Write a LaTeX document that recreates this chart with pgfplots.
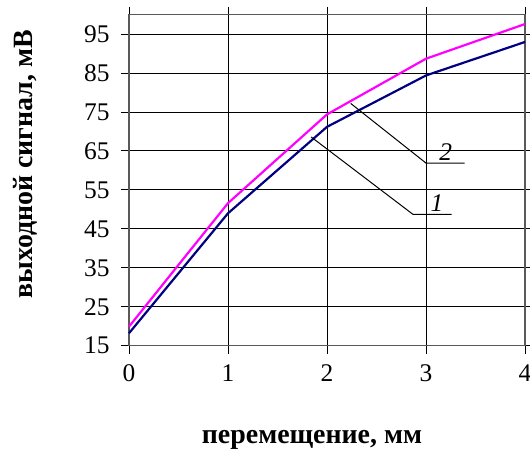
\documentclass[border=0pt]{standalone}
\usepackage{fontspec}
\setmainfont{Liberation Serif}
\usepackage{pgfplots}
\pgfplotsset{compat=1.18}
\begin{document}
\begin{tikzpicture}
\useasboundingbox (-129bp,-106.3bp) rectangle (401bp,345.7bp);
\begin{axis}[
  scale only axis,
  width=396bp, height=331bp,
  xmin=0, xmax=4, ymin=15, ymax=100,
  xtick={0,1,2,3,4},
  ytick={15,25,35,45,55,65,75,85,95},
  grid=major,
  grid style={black, line width=1pt},
  tick align=outside,
  major tick length=8bp,
  tick style={black, line width=1pt},
  axis line style={gray!70!black, line width=1.5pt},
  /pgf/number format/assume math mode=true,
  every tick label/.append style={font=\fontsize{25.5}{27}\selectfont},
  xticklabel style={yshift=-7.5bp},
  yticklabel style={xshift=-8bp},
  xlabel={перемещение, мм},
  ylabel={выходной сигнал, мВ},
  every axis x label/.style={at={([yshift=-94bp,xshift=-15bp]axis description cs:0.5,0)}, anchor=center, font=\bfseries\fontsize{28}{30}\selectfont},
  every axis y label/.style={at={([xshift=-104bp,yshift=16bp]axis description cs:0,0.5)}, anchor=center, rotate=90, font=\bfseries\fontsize{28}{30}\selectfont},
  clip=false,
]
\addplot[color={rgb,255:red,255;green,0;blue,255}, line width=2.2pt] coordinates {(0,19.9) (1,51.6) (2,74.4) (3,88.7) (4,97.6)};
\addplot[color={rgb,255:red,0;green,0;blue,128}, line width=2.2pt] coordinates {(0,18.2) (1,49) (2,71.2) (3,84.4) (4,93)};
\draw[black, line width=1pt] (axis cs:2.24,77.2) -- (axis cs:3.0,61.9) -- (axis cs:3.39,61.9);
\draw[black, line width=1pt] (axis cs:1.84,68.6) -- (axis cs:2.87,48.7) -- (axis cs:3.26,48.7);
\node[font=\itshape\fontsize{25.5}{27}\selectfont] at (axis cs:3.2,64.6) {2};
\node[font=\itshape\fontsize{25.5}{27}\selectfont] at (axis cs:3.11,51.6) {1};
\end{axis}
\end{tikzpicture}
\end{document}
